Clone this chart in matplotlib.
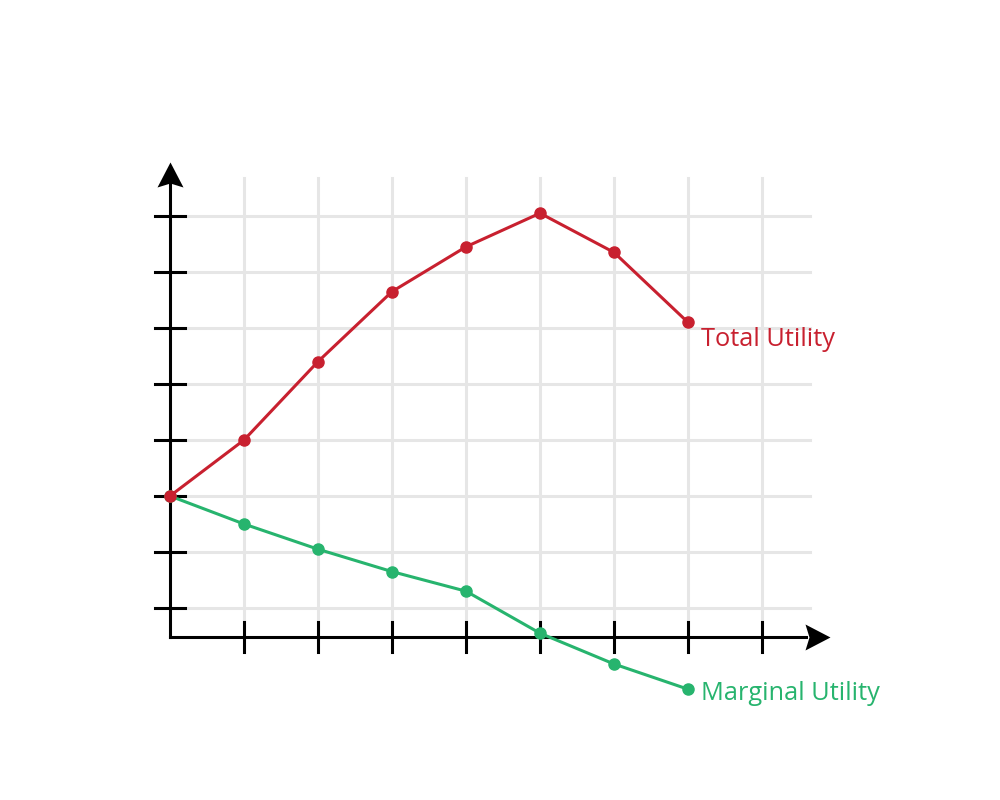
import matplotlib.pyplot as plt
from matplotlib.path import Path

# quantity consumed (grid steps) and utility values
quantity = [0, 1, 2, 3, 4, 5, 6, 7]
total_utility = [3.0, 4.0, 5.4, 6.65, 7.45, 8.05, 7.35, 6.1]
marginal_utility = [3.0, 2.5, 2.05, 1.65, 1.3, 0.55, 0.0, -0.45]
x_ticks = [1, 2, 3, 4, 5, 6, 7, 8]
y_ticks = [1, 2, 3, 4, 5, 6, 7, 8]

red = "#c8202f"
green = "#27b46e"

plt.rcParams["font.family"] = ["Open Sans", "DejaVu Sans"]

fig = plt.figure(figsize=(10, 8), dpi=100)
ax = fig.add_axes([0.096, 0.03, 0.814, 0.84])
ax.set_xlim(-1, 10)
ax.set_ylim(-2, 10)
ax.axis("off")

x0, y0 = 0, 0.48

# grid
for x in x_ticks:
    ax.plot([x, x], [y0, 8.68], color="#e6e6e6", lw=2.2, zorder=1)
for y in y_ticks:
    ax.plot([x0, 8.65], [y, y], color="#e6e6e6", lw=2.2, zorder=1)

# axes lines
ax.plot([x0, x0], [y0, 8.6], color="black", lw=2.2, zorder=3,
        solid_capstyle="projecting")
ax.plot([x0, 8.6], [y0, y0], color="black", lw=2.2, zorder=3,
        solid_capstyle="projecting")

# notched arrow heads
head_up = Path([(0, 1), (0.52, 0), (0, 0.16), (-0.52, 0), (0, 1)],
               [Path.MOVETO, Path.LINETO, Path.LINETO, Path.LINETO, Path.CLOSEPOLY])
head_right = Path([(1, 0), (0, 0.52), (0.16, 0), (0, -0.52), (1, 0)],
                  [Path.MOVETO, Path.LINETO, Path.LINETO, Path.LINETO, Path.CLOSEPOLY])
ax.plot([x0], [8.52], marker=head_up, markersize=36, color="black",
        markeredgewidth=0, zorder=4)
ax.plot([8.58], [y0], marker=head_right, markersize=36, color="black",
        markeredgewidth=0, zorder=4)

# tick marks
for x in x_ticks:
    ax.plot([x, x], [y0 - 0.27, y0 + 0.27], color="black", lw=2.2, zorder=3)
for y in y_ticks:
    ax.plot([x0 - 0.2, x0 + 0.2], [y, y], color="black", lw=2.2, zorder=3)

# curves
ax.plot(quantity, marginal_utility, color=green, lw=2.2, marker="o",
        markersize=8, zorder=5)
ax.plot(quantity, total_utility, color=red, lw=2.2, marker="o",
        markersize=8, zorder=6)

ax.text(7.17, total_utility[-1] - 0.3, "Total Utility", color=red,
        fontsize=18.3, ha="left", va="center")
ax.text(7.17, marginal_utility[-1] - 0.08, "Marginal Utility", color=green,
        fontsize=18.3, ha="left", va="center")

fig.savefig("out.png", dpi=100, facecolor="white")
